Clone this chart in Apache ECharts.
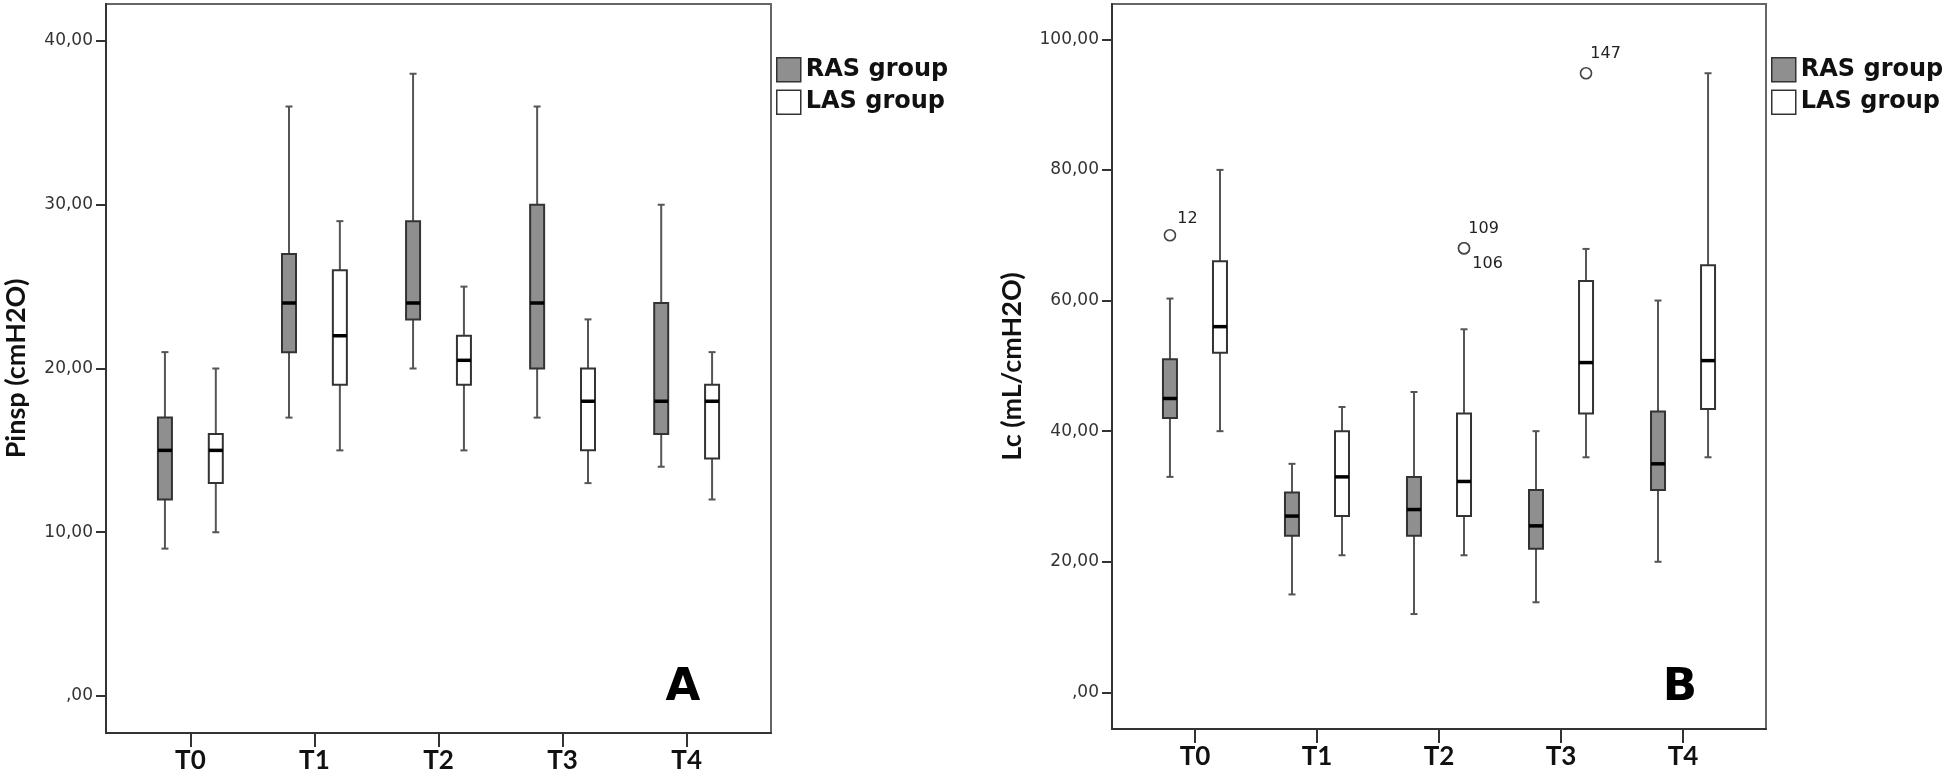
<!DOCTYPE html>
<html>
<head>
<meta charset="utf-8">
<script src="https://cdn.jsdelivr.net/npm/echarts@6/dist/echarts.min.js"></script>
<style>
  html, body { margin: 0; padding: 0; background: #fff; }
  #main { width: 1944px; height: 777px; }
</style>
</head>
<body>
<div id="main"></div>
<script>
// categories
const timePoints = ['T0', 'T1', 'T2', 'T3', 'T4'];
const groups = ['RAS group', 'LAS group'];

// Pinsp (cmH2O), each box: [min, Q1, median, Q3, max]
const pinspRAS = [
  [9, 12, 15, 17, 21],
  [17, 21, 24, 27, 36],
  [20, 23, 24, 29, 38],
  [17, 20, 24, 30, 36],
  [14, 16, 18, 24, 30],
];
const pinspLAS = [
  [10, 13, 15, 16, 20],
  [15, 19, 22, 26, 29],
  [15, 19, 20.5, 22, 25],
  [13, 15, 18, 20, 23],
  [12, 14.5, 18, 19, 21],
];

// Lc (mL/cmH2O)
const lcRAS = [
  [33, 42, 45, 51, 60.3],
  [15, 24, 27, 30.6, 35],
  [12, 24, 28, 33, 46],
  [13.8, 22, 25.5, 31, 40],
  [20, 31, 35, 43, 60],
];
const lcLAS = [
  [40, 52, 56, 66, 80],
  [21, 27, 33, 40, 43.7],
  [21, 27, 32.3, 42.7, 55.6],
  [36, 42.7, 50.5, 63, 67.9],
  [36, 43.4, 50.8, 65.4, 94.8],
];

// Lc outliers
const lcOutlierTime = [0, 2, 2, 3];
const lcOutlierGroup = [0, 1, 1, 1];
const lcOutlierValue = [70, 68, 68, 94.8];
const lcOutlierCase = ['12', '109', '106', '147'];

// tick labels
const pinspTicks = [0, 10, 20, 30, 40];
const lcTicks = [0, 20, 40, 60, 80, 100];
const catTicks = [0, 1, 2, 3, 4];

const fills = ['#8f8f8f', '#ffffff'];
const BOX_W = 14;
const BOX_SHIFT = 0.205; // box centre offset from the tick, in category units
const CAP_W = 7;

const fmtTick = (v) => {
  const s = v.toFixed(2).replace('.', ',');
  return s.startsWith('0,') ? s.slice(1) : s;
};

// outlier label placement (style only)
const caseLabelOffset = {
  '12': [1, -16],
  '109': [-2, -19],
  '106': [2, 16],
  '147': [-2, -19],
};

function boxRenderer(side, fill) {
  return function (params, api) {
    const x = api.value(0);
    const unit = api.size([1, 0])[0];
    const cx = api.coord([x, 0])[0] + side * unit * BOX_SHIFT;
    const yMin = api.coord([x, api.value(1)])[1];
    const yQ1 = api.coord([x, api.value(2)])[1];
    const yMed = api.coord([x, api.value(3)])[1];
    const yQ3 = api.coord([x, api.value(4)])[1];
    const yMax = api.coord([x, api.value(5)])[1];
    const half = BOX_W / 2;
    const whisker = { stroke: '#555', lineWidth: 2 };
    return {
      type: 'group',
      children: [
        { type: 'line', shape: { x1: cx, y1: yMax, x2: cx, y2: yQ3 }, style: whisker },
        { type: 'line', shape: { x1: cx, y1: yQ1, x2: cx, y2: yMin }, style: whisker },
        { type: 'line', shape: { x1: cx - CAP_W / 2, y1: yMax, x2: cx + CAP_W / 2, y2: yMax }, style: whisker },
        { type: 'line', shape: { x1: cx - CAP_W / 2, y1: yMin, x2: cx + CAP_W / 2, y2: yMin }, style: whisker },
        {
          type: 'rect',
          shape: { x: cx - half, y: yQ3, width: BOX_W, height: yQ1 - yQ3 },
          style: { fill: fill, stroke: '#333', lineWidth: 2 },
        },
        {
          type: 'line',
          shape: { x1: cx - half, y1: yMed, x2: cx + half, y2: yMed },
          style: { stroke: '#000', lineWidth: 3.5 },
        },
      ],
    };
  };
}

const boxData = (rows) => rows.map((r, i) => [i].concat(r));

function boxSeries(name, rows, side, gridIdx) {
  return {
    name: name,
    type: 'custom',
    xAxisIndex: gridIdx,
    yAxisIndex: gridIdx,
    renderItem: boxRenderer(side, fills[(side + 1) / 2]),
    itemStyle: { color: fills[(side + 1) / 2], borderColor: '#333' },
    encode: { x: 0, y: [1, 2, 3, 4, 5] },
    data: boxData(rows),
    z: 3,
  };
}

const outlierData = lcOutlierValue.map((v, i) => ({
  value: [lcOutlierTime[i] + (lcOutlierGroup[i] === 0 ? -1 : 1) * BOX_SHIFT, v],
  label: { offset: caseLabelOffset[lcOutlierCase[i]] },
  caseId: lcOutlierCase[i],
}));

const axisText = { fontFamily: 'DejaVu Sans', fontSize: 17, color: '#333' };
const catText = { fontFamily: 'Lato', fontWeight: 'bold', fontSize: 26, color: '#111' };
const titleText = { fontFamily: 'Lato', fontWeight: 'bold', fontSize: 27, color: '#111' };

function xAxisFor(gridIdx) {
  return {
    type: 'value',
    gridIndex: gridIdx,
    min: -0.68,
    max: 4.68,
    axisLine: { show: true, onZero: false, lineStyle: { color: '#333', width: 2 } },
    axisTick: { show: true, length: 14, customValues: catTicks, lineStyle: { color: '#333', width: 2 } },
    axisLabel: {
      customValues: catTicks,
      formatter: (v) => timePoints[Math.round(v)],
      margin: 15,
      ...catText,
    },
    splitLine: { show: false },
  };
}

function yAxisFor(gridIdx, min, max, ticks, name, gap) {
  return {
    type: 'value',
    gridIndex: gridIdx,
    min: min,
    max: max,
    name: name,
    nameLocation: 'middle',
    nameGap: gap,
    nameTextStyle: titleText,
    axisLine: { show: true, onZero: false, lineStyle: { color: '#333', width: 2 } },
    axisTick: { show: true, length: 10, customValues: ticks, lineStyle: { color: '#333', width: 2 } },
    axisLabel: { customValues: ticks, formatter: fmtTick, margin: 13, ...axisText },
    splitLine: { show: false },
  };
}

function legendAt(left) {
  return {
    orient: 'vertical',
    left: left,
    top: 52,
    itemWidth: 24,
    itemHeight: 24,
    itemGap: 7,
    selectedMode: false,
    textStyle: { fontFamily: 'DejaVu Sans', fontWeight: 'bold', fontSize: 24, color: '#111', lineHeight: 24 },
    data: groups.map((g, i) => ({
      name: g,
      icon: 'rect',
      itemStyle: { color: fills[i], borderColor: '#333', borderWidth: 1.5 },
    })),
  };
}

const chart = echarts.init(document.getElementById('main'));
const option = {
  animation: false,
  backgroundColor: '#fff',
  grid: [
    { left: 106, top: 4, width: 665, height: 729, show: true, borderColor: '#666', borderWidth: 2 },
    { left: 1112, top: 4, width: 654, height: 725, show: true, borderColor: '#666', borderWidth: 2 },
  ],
  legend: [legendAt(771), legendAt(1766)],
  xAxis: [xAxisFor(0), xAxisFor(1)],
  yAxis: [
    yAxisFor(0, -2.26, 42.26, pinspTicks, 'Pinsp (cmH2O)', 76),
    yAxisFor(1, -5.6, 105.4, lcTicks, 'Lc (mL/cmH2O)', 86),
  ],
  series: [
    boxSeries(groups[0], pinspRAS, -1, 0),
    boxSeries(groups[1], pinspLAS, 1, 0),
    boxSeries(groups[0], lcRAS, -1, 1),
    boxSeries(groups[1], lcLAS, 1, 1),
    {
      type: 'scatter',
      xAxisIndex: 1,
      yAxisIndex: 1,
      symbol: 'circle',
      symbolSize: 11,
      itemStyle: { color: '#fff', borderColor: '#444', borderWidth: 1.6, opacity: 1 },
      label: {
        show: true,
        position: 'right',
        distance: 0,
        formatter: (p) => p.data.caseId,
        fontFamily: 'DejaVu Sans',
        fontSize: 16,
        color: '#222',
      },
      data: outlierData,
      z: 4,
    },
  ],
  graphic: [
    {
      type: 'text',
      style: { x: 683, y: 688, text: 'A', textAlign: 'center', textVerticalAlign: 'middle', font: 'bold 45px "DejaVu Sans"', fill: '#000' },
    },
    {
      type: 'text',
      style: { x: 1680, y: 688, text: 'B', textAlign: 'center', textVerticalAlign: 'middle', font: 'bold 45px "DejaVu Sans"', fill: '#000' },
    },
  ],
};
chart.setOption(option);
</script>
</body>
</html>
